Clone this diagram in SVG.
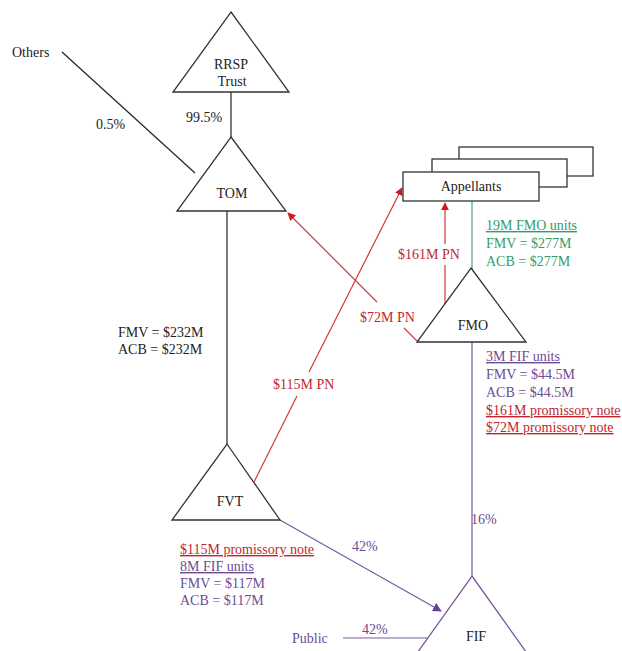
<svg xmlns="http://www.w3.org/2000/svg" width="622" height="651" viewBox="0 0 622 651">
<style>
text{font-family:"Liberation Serif","Times New Roman",serif;font-size:14px}
.k{fill:#222}
.r{fill:#c0272d}
.p{fill:#6b4d94}
.g{fill:#2f9e6c}
.u{text-decoration:underline}
.c{text-anchor:middle}
.node{fill:#fff;stroke:#333;stroke-width:1.3}
.lk{stroke:#222;stroke-width:1.2;fill:none}
.lr{stroke:#d03a3a;stroke-width:1.2;fill:none}
.lp{stroke:#7a5a9e;stroke-width:1.2;fill:none}
.lg{stroke:#5aab8f;stroke-width:1.3;fill:none}
</style>
<defs>
<marker id="ar" viewBox="0 0 10 10" refX="9" refY="5" markerWidth="8" markerHeight="8" markerUnits="userSpaceOnUse" orient="auto"><path d="M0,0 L10,5 L0,10 z" fill="#d0191f"/></marker>
<marker id="ap" viewBox="0 0 10 10" refX="9" refY="5" markerWidth="9" markerHeight="9" markerUnits="userSpaceOnUse" orient="auto"><path d="M0,0 L10,5 L0,10 z" fill="#6b3fa0"/></marker>
</defs>
<rect width="622" height="651" fill="#fff"/>
<g id="connectors">
<line class="lk" x1="62" y1="52" x2="195" y2="173"/>
<line class="lk" x1="231" y1="92" x2="231" y2="137"/>
<line class="lk" x1="227" y1="211" x2="227" y2="444"/>
<path class="lr" d="M254,482 L297,396 M309,372 L402,188" marker-end="url(#ar)"/>
<path class="lr" d="M417,341 L404,328 M377,302 L288,213" marker-end="url(#ar)"/>
<path class="lr" d="M445,304 L445,265 M445,244 L445,203" marker-end="url(#ar)"/>
<line class="lg" x1="472" y1="201" x2="472" y2="269"/>
<line class="lp" x1="472" y1="342" x2="472" y2="576"/>
<line class="lp" x1="280" y1="520" x2="441" y2="611" marker-end="url(#ap)"/>
<line class="lp" x1="343" y1="638" x2="429" y2="638"/>
</g>
<g id="rrsp">
<polygon class="node" points="231,12 289,92 173,92"/>
<text class="k c" x="231" y="69">RRSP</text>
<text class="k c" x="232" y="86">Trust</text>
</g>
<g id="others"><text class="k" x="12" y="57">Others</text></g>
<g id="tom">
<polygon class="node" points="231,137 286,211 177,211"/>
<text class="k c" x="232" y="198">TOM</text>
</g>
<g id="appellants">
<rect class="node" x="459" y="147" width="134" height="29"/>
<rect class="node" x="432" y="159" width="135" height="28"/>
<rect class="node" x="403" y="172" width="136" height="29"/>
<text class="k c" x="471" y="191">Appellants</text>
</g>
<g id="fmo">
<polygon class="node" points="471,268 526,342 417,342"/>
<text class="k c" x="473" y="330">FMO</text>
</g>
<g id="fvt">
<polygon class="node" points="227,444 280,520 172,520"/>
<text class="k c" x="230" y="506">FVT</text>
</g>
<g id="fif">
<polygon class="node" points="472,576 529,656 415,656" style="stroke:#7a5a9e"/>
<text class="k c" x="476" y="641">FIF</text>
</g>
<g id="labels">
<text class="k" x="186" y="122">99.5%</text>
<text class="k" x="96" y="129">0.5%</text>
<text class="k" x="118" y="337">FMV = $232M</text>
<text class="k" x="118" y="354">ACB = $232M</text>
<text class="r" x="273" y="389">$115M PN</text>
<text class="r" x="360" y="322">$72M PN</text>
<text class="r" x="398" y="259">$161M PN</text>
<text class="g u" x="486" y="230">19M FMO units</text>
<text class="g" x="486" y="248">FMV = $277M</text>
<text class="g" x="486" y="266">ACB = $277M</text>
<text class="p u" x="486" y="361">3M FIF units</text>
<text class="p" x="486" y="379">FMV = $44.5M</text>
<text class="p" x="486" y="397">ACB = $44.5M</text>
<text class="r u" x="486" y="415">$161M promissory note</text>
<text class="r u" x="486" y="432">$72M promissory note</text>
<text class="p" x="471" y="524">16%</text>
<text class="p" x="352" y="551">42%</text>
<text class="r u" x="180" y="554">$115M promissory note</text>
<text class="p u" x="180" y="571">8M FIF units</text>
<text class="p" x="180" y="588">FMV = $117M</text>
<text class="p" x="180" y="605">ACB = $117M</text>
<text class="p" x="292" y="643">Public</text>
<text class="p" x="362" y="634">42%</text>
</g>
</svg>
